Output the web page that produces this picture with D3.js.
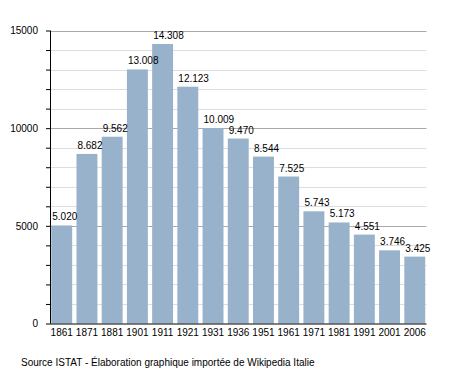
<!DOCTYPE html>
<html>
<head>
<meta charset="utf-8">
<script src="https://cdn.jsdelivr.net/npm/d3@7"></script>
<style>
  body { margin: 0; background: #fff; }
  svg { font-family: "Liberation Sans", Arial, sans-serif; }
  .axis text { font-size: 10px; fill: #000; }
  .axis path, .axis line { stroke: #000; }
  .val { font-size: 10px; fill: #000; }
  .source { font-size: 10px; fill: #000; }
</style>
</head>
<body>
<svg id="chart" width="455" height="373"></svg>
<script>
// data
const years = ["1861", "1871", "1881", "1901", "1911", "1921", "1931", "1936",
               "1951", "1961", "1971", "1981", "1991", "2001", "2006"];
const population = [5020, 8682, 9562, 13008, 14308, 12123, 10009, 9470,
                    8544, 7525, 5743, 5173, 4551, 3746, 3425];
const yTicks = d3.range(0, 15001, 1000);
const yLabels = [0, 5000, 10000, 15000];
const sourceText = "Source ISTAT - Élaboration graphique importée de Wikipedia Italie";

const data = years.map((y, i) => ({ year: y, value: population[i] }));

// plot box
const box = { left: 50, right: 426.5, top: 30.5, bottom: 323.5 };

const svg = d3.select("#chart");

const x = d3.scaleBand()
    .domain(years)
    .range([box.left, box.right])
    .paddingInner(0.17)
    .paddingOuter(0.05);

const y = d3.scaleLinear()
    .domain([0, 15000])
    .range([box.bottom, box.top]);

// gridlines (light for minor, darker on 5000s)
svg.append("g")
  .selectAll("line")
  .data(yTicks.filter(d => d > 0))
  .enter()
  .append("line")
    .attr("x1", box.left)
    .attr("x2", box.right)
    .attr("y1", d => Math.round(y(d)) + 0.5)
    .attr("y2", d => Math.round(y(d)) + 0.5)
    .attr("stroke", d => d % 5000 === 0 ? "#aaaaaa" : "#dddddd")
    .attr("stroke-width", 1);

// bars
svg.append("g")
  .selectAll("rect")
  .data(data)
  .enter()
  .append("rect")
    .attr("x", d => x(d.year))
    .attr("y", d => y(d.value))
    .attr("width", x.bandwidth())
    .attr("height", d => box.bottom - y(d.value))
    .attr("fill", "#99b2cb");

// value labels, "." as thousands separator
const fmt = d3.formatLocale({ decimal: ",", thousands: ".", grouping: [3], currency: ["", ""] }).format(",d");

svg.append("g")
  .selectAll("text")
  .data(data)
  .enter()
  .append("text")
    .attr("class", "val")
    .attr("x", d => x(d.year) + 1)
    .attr("y", d => y(d.value) - 5)
    .text(d => fmt(d.value));

// y axis
svg.append("g")
    .attr("class", "axis")
    .attr("transform", `translate(${box.left},0)`)
    .call(d3.axisLeft(y)
        .tickValues(yTicks)
        .tickSize(4)
        .tickPadding(8)
        .tickFormat(d => yLabels.includes(d) ? d : ""))
    .call(g => g.select(".domain").attr("d", `M0.5,${box.top}V${box.bottom}`));

// x axis
svg.append("g")
    .attr("class", "axis")
    .attr("transform", `translate(0,${box.bottom})`)
    .call(d3.axisBottom(x).tickSize(0).tickPadding(5))
    .call(g => g.select(".domain").attr("d", `M${box.left},0.5H${box.right}`));

// source note
svg.append("text")
    .attr("class", "source")
    .attr("x", 21)
    .attr("y", 366)
    .text(sourceText);
</script>
</body>
</html>
